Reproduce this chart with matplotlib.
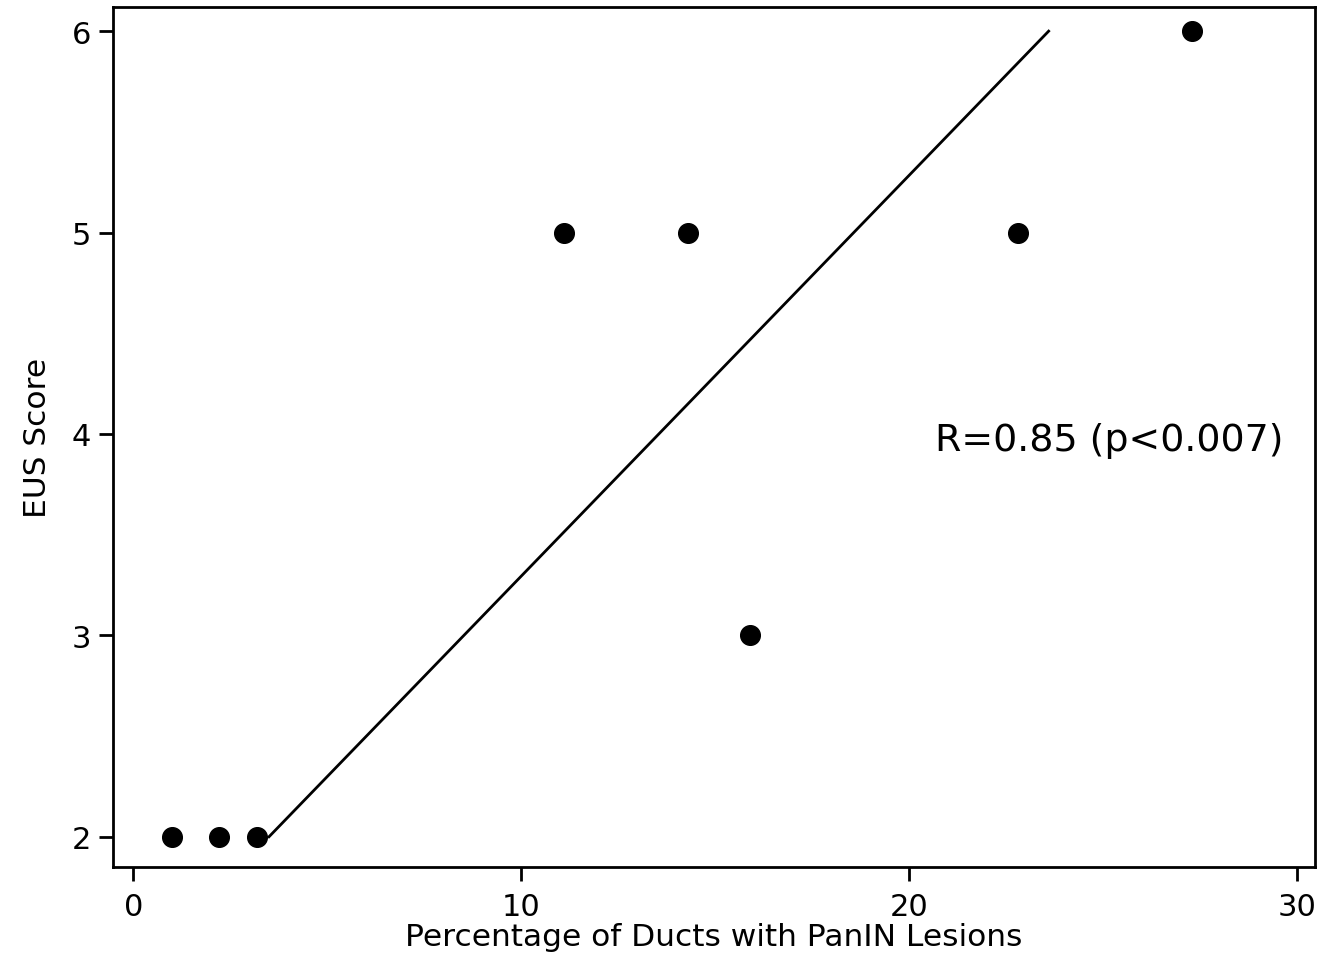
import matplotlib
matplotlib.use("Agg")
import matplotlib.pyplot as plt

# data
pct_ducts = [1.0, 2.2, 3.2, 11.1, 14.3, 15.9, 22.8, 27.3]
eus_score = [2, 2, 2, 5, 5, 3, 5, 6]
fit_x = [3.5, 23.6]
fit_y = [2, 6]
xticks = [0, 10, 20, 30]
yticks = [2, 3, 4, 5, 6]

plt.rcParams['font.family'] = ['DejaVu Sans']

fig = plt.figure(figsize=(13.36, 9.62), dpi=100)
ax = fig.add_axes([0.0846, 0.0977, 0.8995, 0.894])

ax.plot(fit_x, fit_y, color="black", lw=2)
ax.scatter(pct_ducts, eus_score, s=200, color="black", zorder=3)

ax.set_xlim(-0.52, 30.46)
ax.set_ylim(1.85, 6.12)
ax.set_xticks(xticks)
ax.set_yticks(yticks)
ax.tick_params(labelsize=22, width=2, length=10, color="black")
ax.tick_params(axis="x", pad=8)
ax.tick_params(axis="y", pad=6)
for s in ax.spines.values():
    s.set_linewidth(2)

ax.set_xlabel("Percentage of Ducts with PanIN Lesions", fontsize=22.5, labelpad=1)
ax.set_ylabel("EUS Score", fontsize=22.5, labelpad=14)
ax.text(20.67, 3.97, "R=0.85 (p<0.007)", fontsize=27.3, va="center", ha="left")

fig.savefig("out.png", dpi=100)
